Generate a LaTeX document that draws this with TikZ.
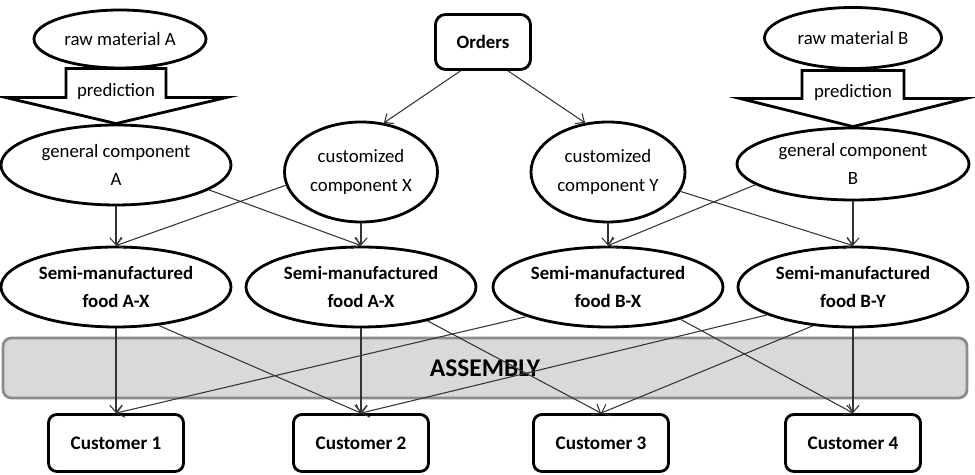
\documentclass[tikz,border=0pt]{standalone}
\usepackage{fontspec}
\setmainfont{Carlito}
\usetikzlibrary{arrows.meta,calc,positioning,shapes}

\definecolor{bargray}{HTML}{D9D9D9}
\definecolor{barline}{HTML}{8C8C8C}
\definecolor{linkgray}{HTML}{333333}

\tikzset{
	every node/.style={
		font=\fontsize{10.7}{16}\selectfont
	},
	material/.style={
		shape=ellipse,
		draw,
		line width=1.6pt,
		inner sep=0pt,
		align=center
	},
	semi/.style={
		shape=ellipse,
		draw,
		line width=1.6pt,
		inner sep=0pt,
		minimum width=4.6cm,
		minimum height=1.6cm,
		align=center,
		font=\fontsize{10.7}{16}\selectfont\bfseries
	},
	customer/.style={
		shape=rectangle,
		draw,
		line width=1.6pt,
		rounded corners=1ex,
		minimum width=2.7cm,
		minimum height=1.14cm,
		font=\fontsize{10.9}{16}\selectfont\bfseries
	},
	orderbox/.style={
		shape=rectangle,
		draw,
		line width=1.6pt,
		rounded corners=1.2ex,
		minimum width=1.9cm,
		minimum height=1.1cm,
		font=\fontsize{10.7}{16}\selectfont\bfseries
	},
	assembly/.style={
		shape=rectangle,
		draw=barline,
		fill=bargray,
		line width=1.6pt,
		rounded corners=1ex,
		minimum width=19.28cm,
		minimum height=1.2cm,
		font=\fontsize{14.5}{16}\selectfont\bfseries
	},
	predarrow/.style={
		draw,
		fill=white,
		line width=1.6pt
	},
	link/.style={
		->,
		draw=linkgray,
		line width=0.6pt
	}
}

\begin{document}
\begin{tikzpicture}[>={Straight Barb[length=4pt,width=7pt]},semithick]
  \useasboundingbox (0,0) rectangle (19.5,9.5);

  % assembly bar behind everything
  \node[assembly] (bar) at (9.7,2.14) {ASSEMBLY};

  \node[orderbox]  (orders) at (9.66,8.66) {Orders};
  \node[material, minimum width=3.44cm, minimum height=1.16cm] (rawA) at (2.4,8.72)  {raw material A};
  \node[material, minimum width=3.54cm, minimum height=1.22cm] (rawB) at (17.06,8.74) {raw material B};

  \node[material, minimum width=4.6cm,  minimum height=1.6cm]  (genA)  at (2.32,6.2)   {general component\\A};
  \node[material, minimum width=3.06cm, minimum height=2cm]    (custX) at (7.22,6.06)  {customized\\component X};
  \node[material, minimum width=3.08cm, minimum height=2cm]    (custY) at (12.16,6.06) {customized\\component Y};
  \node[material, minimum width=4.64cm, minimum height=1.44cm] (genB)  at (17.06,6.22) {general component\\B};

  \node[semi] (semiAX) at (2.32,3.76)  {Semi-manufactured\\food A-X};
  \node[semi] (semiAY) at (7.22,3.76)  {Semi-manufactured\\food A-X};
  \node[semi] (semiBX) at (12.16,3.76) {Semi-manufactured\\food B-X};
  \node[semi] (semiBY) at (17.06,3.76) {Semi-manufactured\\food B-Y};

  \node[customer] (cust1) at (2.32,0.64)  {Customer 1};
  \node[customer] (cust2) at (7.22,0.64)  {Customer 2};
  \node[customer] (cust3) at (12.02,0.64) {Customer 3};
  \node[customer] (cust4) at (17.06,0.64) {Customer 4};

  % prediction arrows
  \draw[predarrow] (genA.north) -- ++(-2.2,0.52) -- ++(1.2,0) -- ++(0,0.58)
    -- ++(2,0) -- ++(0,-0.58) -- ++(1.2,0) -- cycle;
  \node (predA) at ($(genA.north)+(0,0.64)$) {prediction};
  \draw[predarrow] (genB.north) -- ++(-2.25,0.56) -- ++(1.23,0) -- ++(0,0.56)
    -- ++(2.04,0) -- ++(0,-0.56) -- ++(1.23,0) -- cycle;
  \node (predB) at ($(genB.north)+(0,0.68)$) {prediction};

  \path ([xshift=-0.45cm]orders.south) edge[link] (custX.65)
        ([xshift=0.5cm]orders.south)   edge[link] (custY.115);

  \path (genA.south) edge[link] (semiAX.north)
        (genA.345)   edge[link] (semiAY.north)
        (custX.190)  edge[link] (semiAX.north)
        (custX.south) edge[link] (semiAY.north)
        (custY.south) edge[link] (semiBX.north)
        (custY.345)  edge[link] (semiBY.north)
        (genB.192)   edge[link] (semiBX.north)
        (genB.south) edge[link] (semiBY.north);

  \path (semiAX.south) edge[link] (cust1.north)
        (semiAX.318)   edge[link] (cust2.north)
        (semiAY.south) edge[link] (cust2.north)
        (semiAY.333)   edge[link] (cust3.north)
        (semiBX.200)   edge[link] (cust1.north)
        (semiBX.336)   edge[link] (cust4.north)
        (semiBY.198)   edge[link] (cust2.north)
        (semiBY.224)   edge[link] (cust3.north)
        (semiBY.south) edge[link] (cust4.north);
\end{tikzpicture}
\end{document}
